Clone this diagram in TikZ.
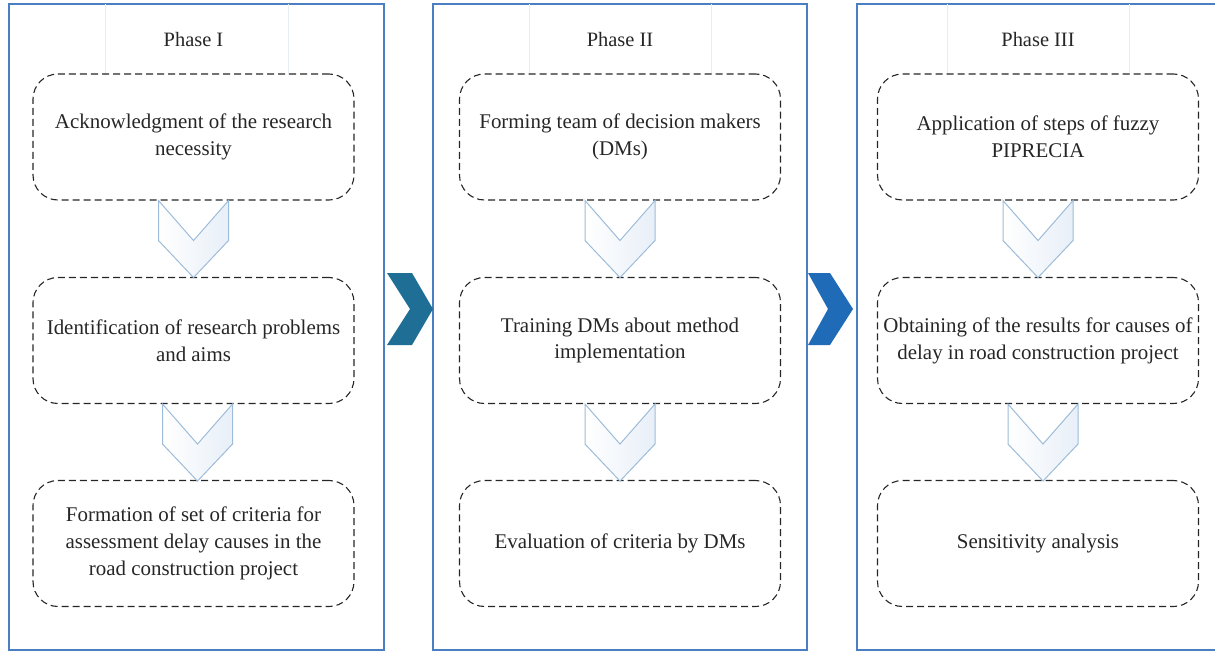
\documentclass[tikz,border=0pt]{standalone}
\usepackage{fontspec}
\setmainfont{Liberation Serif}
\begin{document}
\begin{tikzpicture}[x=1bp,y=-1bp,
  panel/.style={draw=panelblue,line width=1.3bp},
  stepbox/.style={draw=black!85,dash pattern=on 7bp off 4bp,line width=1.1bp,rounded corners=25bp,
     minimum width=321bp,minimum height=126bp,align=center,
     font=\fontsize{21}{27}\selectfont,text=black!85},
  phase/.style={font=\fontsize{20.5}{24}\selectfont,text=black!85},
  hdr/.style={draw=hdrline,line width=0.6bp},
  downchev/.style={draw=chevline,line width=1bp,left color=white,right color=chevfill}]
\definecolor{panelblue}{HTML}{4A7FC1}
\definecolor{hdrline}{HTML}{E6EDF5}
\definecolor{chevline}{HTML}{9DBCD9}
\definecolor{chevfill}{HTML}{E8EFF8}
\definecolor{arrA}{HTML}{1F6E96}
\definecolor{arrB}{HTML}{1F6BB8}
\useasboundingbox (0,0) rectangle (1215,652);
\clip (0,0) rectangle (1215,652);
% panels
\draw[panel] (9,4) rectangle (384,650);
\draw[panel] (433,4) rectangle (807,650);
\draw[panel] (857,4) rectangle (1225,650);
% header faint lines
\foreach \a/\b in {105/288,529/711,947/1129}{
  \draw[hdr] (\a,4) -- (\a,75);
  \draw[hdr] (\b,4) -- (\b,75);
}
\node[phase] (p1) at (193.5,40) {Phase I};
\node[phase] (p2) at (620,40) {Phase II};
\node[phase] (p3) at (1038,40) {Phase III};
% boxes
\node[stepbox] (a1) at (193.5,137) {Acknowledgment of the research\\necessity};
\node[stepbox] (a2) at (193.5,340.5) {Identification of research problems\\and aims};
\node[stepbox] (a3) at (193.5,543.5) {Formation of set of criteria for\\assessment delay causes in the\\road construction project};
\node[stepbox] (b1) at (620,137) {Forming team of decision makers\\(DMs)};
\node[stepbox] (b2) at (620,340.5) {Training DMs about method\\implementation};
\node[stepbox] (b3) at (620,543.5) {Evaluation of criteria by DMs};
\node[stepbox] (c1) at (1038,137) {Application of steps of fuzzy\\PIPRECIA};
\node[stepbox] (c2) at (1038,340.5) {Obtaining of the results for causes of\\delay in road construction project};
\node[stepbox] (c3) at (1038,543.5) {Sensitivity analysis};
% down chevrons
\foreach \u/\v/\dx in {a1/a2/0,a2/a3/4,b1/b2/0,b2/b3/0,c1/c2/0,c2/c3/5}{
  \path ([xshift=\dx bp]\u.south) coordinate (t);
  \draw[downchev] ([xshift=-35bp]t) -- ([yshift=-40bp]t) -- ([xshift=35bp]t)
     -- ([xshift=35bp,yshift=-40bp]t) -- ([yshift=-77bp]t) -- ([xshift=-35bp,yshift=-40bp]t) -- cycle;
}
% right chevrons between panels
\coordinate (r1) at (387,273);
\coordinate (r2) at (808,273);
\fill[arrA] (r1) -- ++(25,0) -- ++(21,36) -- ++(-21,36) -- ++(-25,0) -- ++(23,-36) -- cycle;
\fill[arrB] (r2) -- ++(22,0) -- ++(23,36) -- ++(-23,36) -- ++(-22,0) -- ++(20,-36) -- cycle;
\end{tikzpicture}
\end{document}
